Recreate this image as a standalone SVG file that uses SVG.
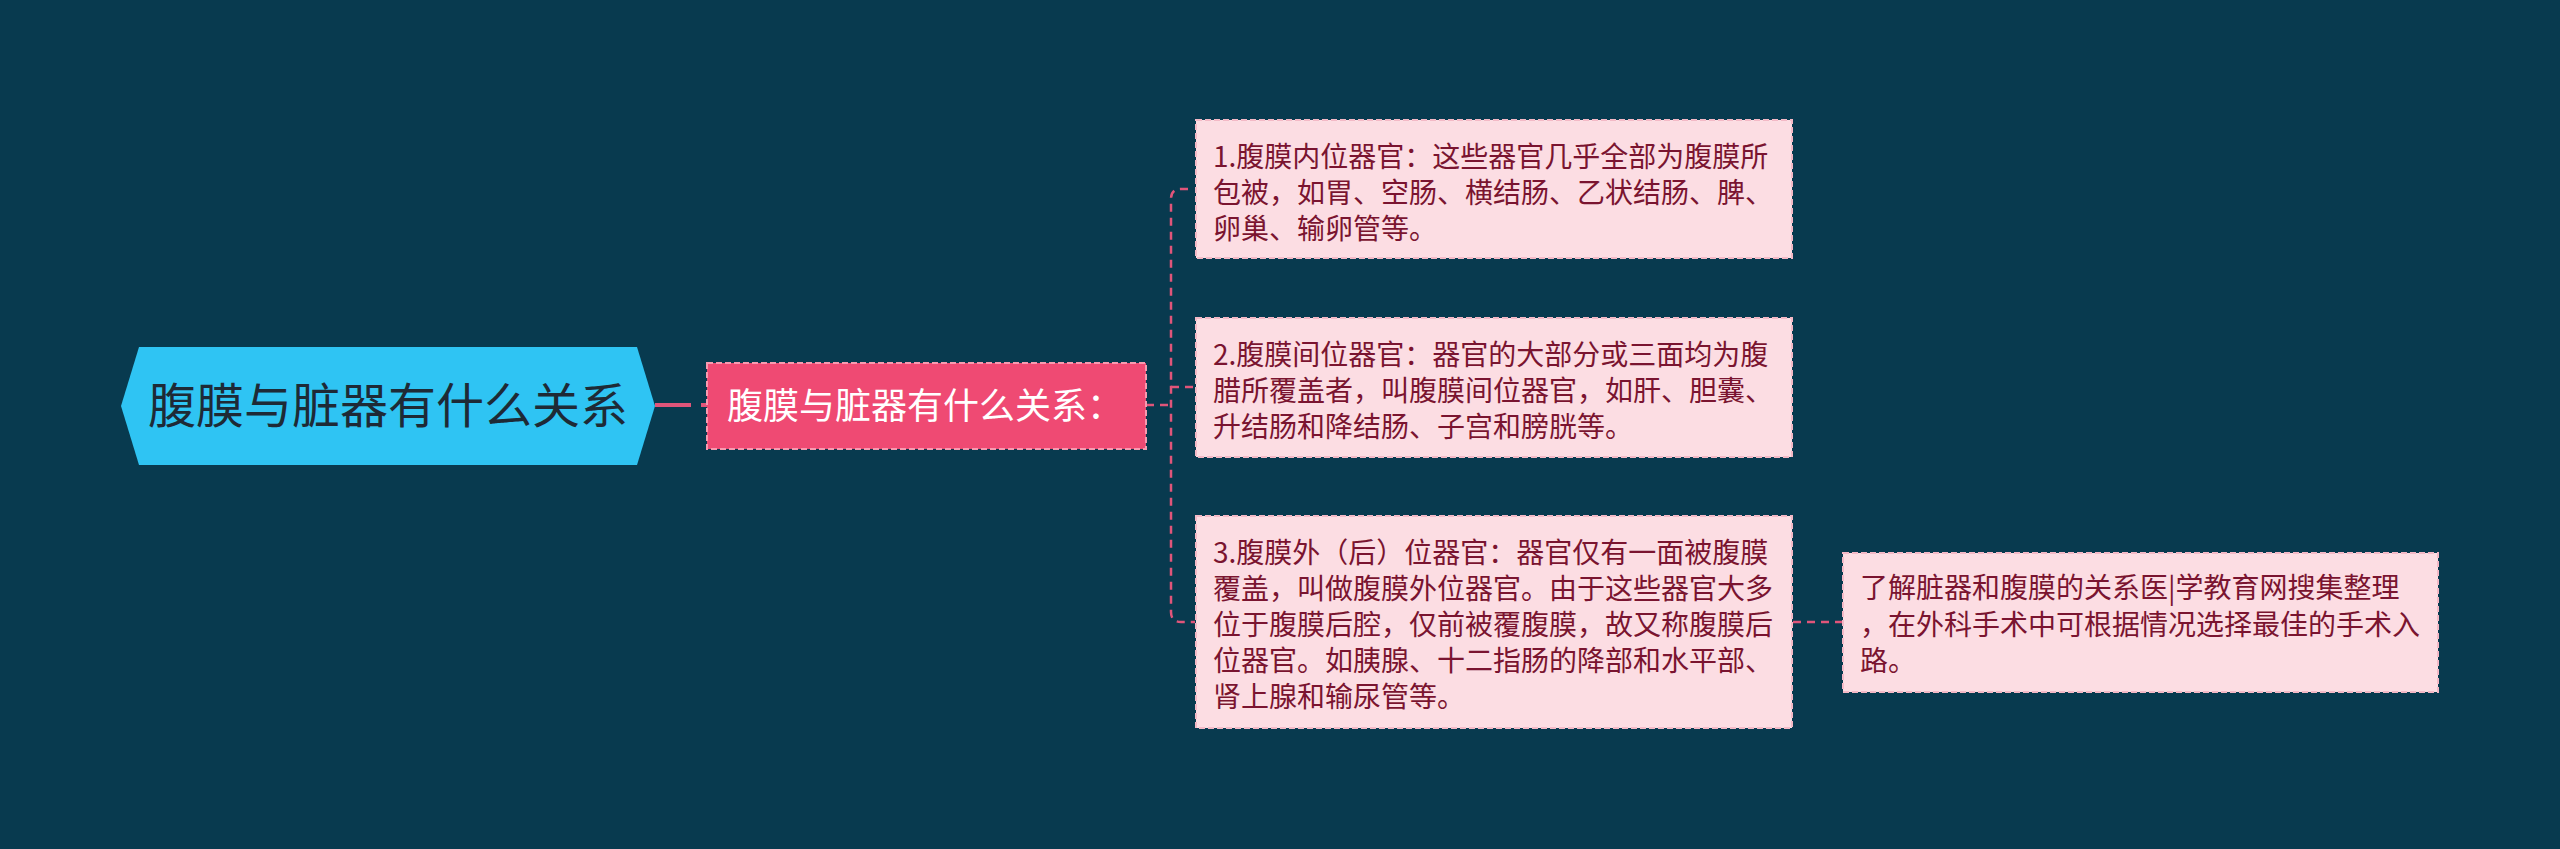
<svg xmlns="http://www.w3.org/2000/svg" width="2560" height="849" viewBox="0 0 2560 849">
<style>
.t{font-family:"Noto Sans CJK SC","Noto Sans",sans-serif;}
.box{fill:#fcdde3;stroke:#f3b9c6;stroke-width:2;stroke-dasharray:6 3;}
.bt{font-size:28px;fill:#7a1430;}
.c{fill:none;stroke:#e0557a;stroke-width:2.5;stroke-dasharray:8 6;}
</style>
<rect x="0" y="0" width="2560" height="849" fill="#083a4f"/>
<g id="connectors">
<path d="M655,405 H707" fill="none" stroke="#e0557a" stroke-width="4" stroke-dasharray="36 10"/>
<path class="c" d="M1146,405 H1171" stroke-dasharray="12 8"/>
<path class="c" d="M1188,189 H1181 Q1171,189 1171,199 V612 Q1171,622 1181,622 H1195"/>
<path class="c" d="M1171,387 H1195"/>
<path class="c" d="M1793,622 H1843" stroke-dasharray="13 8"/>
</g>
<g id="root">
<polygon points="121,406 139,347 637,347 655,406 637,465 139,465" fill="#2fc4f3"/>
<text class="t" x="388" y="423" font-size="48" fill="#1e2a36" text-anchor="middle">腹膜与脏器有什么关系</text>
</g>
<g id="main">
<rect x="707" y="363" width="439" height="86" fill="#ef4a73" stroke="#f79ab0" stroke-width="2" stroke-dasharray="6 3"/>
<text class="t" x="727" y="419" font-size="36" fill="#ffffff">腹膜与脏器有什么关系：</text>
</g>
<g id="n1">
<rect class="box" x="1196" y="120" width="596" height="138"/>
<text class="t bt" x="1213" y="167">1.腹膜内位器官：这些器官几乎全部为腹膜所</text>
<text class="t bt" x="1213" y="203">包被，如胃、空肠、横结肠、乙状结肠、脾、</text>
<text class="t bt" x="1213" y="239">卵巢、输卵管等。</text>
</g>
<g id="n2">
<rect class="box" x="1196" y="318" width="596" height="139"/>
<text class="t bt" x="1213" y="365">2.腹膜间位器官：器官的大部分或三面均为腹</text>
<text class="t bt" x="1213" y="401">腊所覆盖者，叫腹膜间位器官，如肝、胆囊、</text>
<text class="t bt" x="1213" y="437">升结肠和降结肠、子宫和膀胱等。</text>
</g>
<g id="n3">
<rect class="box" x="1196" y="516" width="596" height="212"/>
<text class="t bt" x="1213" y="563">3.腹膜外（后）位器官：器官仅有一面被腹膜</text>
<text class="t bt" x="1213" y="599">覆盖，叫做腹膜外位器官。由于这些器官大多</text>
<text class="t bt" x="1213" y="635">位于腹膜后腔，仅前被覆腹膜，故又称腹膜后</text>
<text class="t bt" x="1213" y="671">位器官。如胰腺、十二指肠的降部和水平部、</text>
<text class="t bt" x="1213" y="707">肾上腺和输尿管等。</text>
</g>
<g id="n4">
<rect class="box" x="1843" y="553" width="595" height="139"/>
<text class="t bt" x="1860" y="598">了解脏器和腹膜的关系医|学教育网搜集整理</text>
<text class="t bt" x="1860" y="635">，在外科手术中可根据情况选择最佳的手术入</text>
<text class="t bt" x="1860" y="671">路。</text>
</g>
</svg>
